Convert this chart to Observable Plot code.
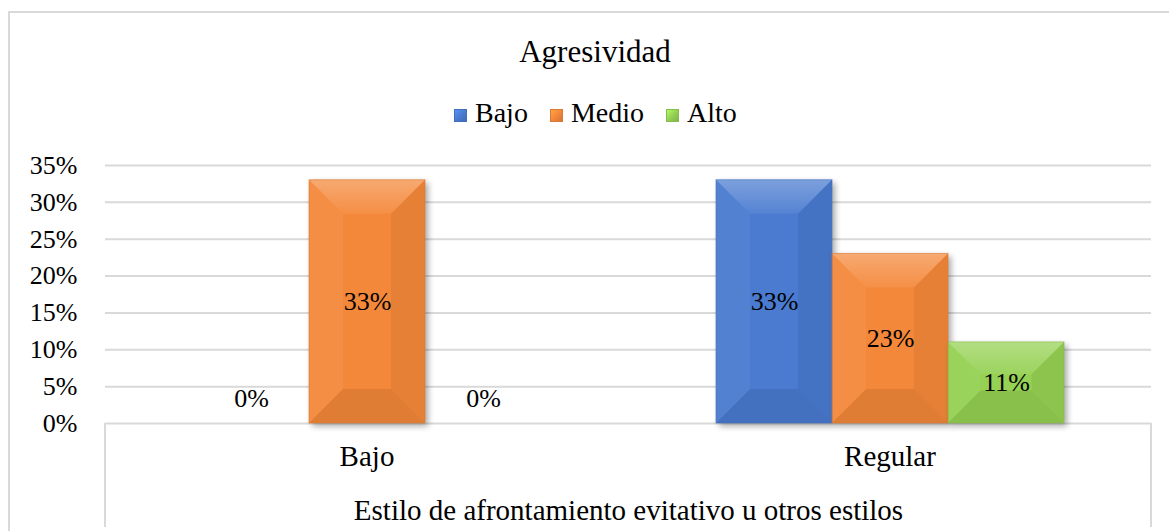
<!DOCTYPE html>
<html>
<head>
<meta charset="utf-8">
<script src="https://cdn.jsdelivr.net/npm/d3@7"></script>
<script src="https://cdn.jsdelivr.net/npm/@observablehq/plot@0.6"></script>
<style>
  html, body { margin: 0; padding: 0; background: #fff; }
  #wrap { position: relative; width: 1169px; height: 531px; overflow: hidden; font-family: "Liberation Serif", "LiberationSerif", "Tinos", "Times New Roman", "Nimbus Roman", "DejaVu Serif", serif; color: #000; }
  #border { position: absolute; left: 8px; top: 11px; width: 1300px; height: 700px; border-left: 2px solid #d9d9d9; border-top: 2px solid #d9d9d9; }
  #title { position: absolute; left: 0; width: 1190px; top: 36px; text-align: center; font-size: 31px; line-height: 31px; white-space: nowrap; }
  #legend { position: absolute; left: 454px; top: 99px; font-size: 28px; line-height: 28px; white-space: nowrap; display: flex; align-items: baseline; }
  .item { display: inline-flex; align-items: baseline; margin-right: 22px; }
  .sw { display: inline-block; width: 13px; height: 13px; margin-right: 8px; box-sizing: border-box; }
  #chart { position: absolute; left: 0; top: 130px; }
  #chart svg text { font-family: "Liberation Serif", "LiberationSerif", "Tinos", "Times New Roman", "Nimbus Roman", "DejaVu Serif", serif; }
</style>
</head>
<body>
<div id="wrap">
  <div id="border"></div>
  <div id="title">Agresividad</div>
  <div id="legend"></div>
  <div id="chart"></div>
</div>
<script>
// ---- data ----
const groups = ["Bajo", "Regular"];
const series = ["Bajo", "Medio", "Alto"];
const bajoValues = [0, 33, 0];
const regularValues = [33, 23, 11];
const yTicks = [0, 5, 10, 15, 20, 25, 30, 35];
const colors = ["#4A7BD0", "#F4883A", "#95D153"];
const titleText = "Agresividad";
const xTitle = "Estilo de afrontamiento evitativo u otros estilos";

const table = [];
[bajoValues, regularValues].forEach((vals, gi) => {
  vals.forEach((v, si) => table.push({group: groups[gi], series: series[si], value: v}));
});

// ---- legend ----
const legend = document.getElementById("legend");
series.forEach((s, i) => {
  const item = document.createElement("span");
  item.className = "item";
  const sw = document.createElement("span");
  sw.className = "sw";
  const c = d3.color(colors[i]);
  sw.style.background = `linear-gradient(135deg, ${c.brighter(0.5)} 0%, ${colors[i]} 50%, ${c.darker(0.4)} 100%)`;
  sw.style.border = `1px solid ${c.darker(0.3)}`;
  item.appendChild(sw);
  item.appendChild(document.createTextNode(s));
  legend.appendChild(item);
});
document.getElementById("title").textContent = titleText;

// ---- chart ----
const W = 1169, H = 401;
const FONT = '"Liberation Serif", "LiberationSerif", "Tinos", "Times New Roman", "Nimbus Roman", "DejaVu Serif", serif';
const plot = Plot.plot({
  width: W,
  height: H,
  marginLeft: 105,
  marginRight: 18,
  marginTop: 35,
  marginBottom: 108,
  style: {fontFamily: FONT, fontSize: "26px", color: "#000", background: "transparent", overflow: "visible"},
  fx: {domain: groups, padding: 0, label: null},
  x: {domain: series, paddingInner: 0, paddingOuter: 0.75, axis: null},
  y: {domain: [0, 35], label: null},
  color: {domain: series, range: colors},
  marks: [
    Plot.gridY(yTicks, {stroke: "#d9d9d9", strokeOpacity: 1, strokeWidth: 2}),
    Plot.axisY(yTicks, {tickSize: 0, tickPadding: 28, tickFormat: d => d + "%", fontSize: 26, label: null}),
    Plot.axisFx({anchor: "bottom", tickSize: 0, tickPadding: 22, fontSize: 29, label: xTitle, labelAnchor: "center", labelArrow: "none", labelOffset: 96}),
    Plot.barY(table, {fx: "group", x: "series", y: "value", fill: "series"}),
    Plot.text(table.filter(d => d.value > 0), {fx: "group", x: "series", y: d => d.value / 2, text: d => d.value + "%", fontSize: 26, fill: "#000"}),
    Plot.text(table.filter(d => d.value === 0), {fx: "group", x: "series", y: "value", text: d => d.value + "%", dy: -25, fontSize: 26, fill: "#000"})
  ]
});
document.getElementById("chart").appendChild(plot);

// ---- decoration: bevel + shadow on bars, category box ----
const svg = d3.select(plot);
const defs = svg.append("defs");
const gTop = defs.append("linearGradient").attr("id", "bevTop").attr("x1", 0).attr("y1", 0).attr("x2", 0).attr("y2", 1);
gTop.append("stop").attr("offset", 0).attr("stop-color", "#fff").attr("stop-opacity", 0.28);
gTop.append("stop").attr("offset", 1).attr("stop-color", "#fff").attr("stop-opacity", 0.06);
svg.selectAll('g[aria-label="bar"] rect').each(function() {
  const r = d3.select(this);
  const x = +r.attr("x"), y = +r.attr("y"), w = +r.attr("width"), h = +r.attr("height");
  if (!(h > 1)) return;
  this.style.filter = "drop-shadow(3px 3px 3px rgba(0,0,0,0.35))";
  const b = Math.min(34, h * 0.4, w * 0.4);
  const p = d3.select(this.parentNode);
  const facets = [
    {pts: [[x, y], [x + w, y], [x + w - b, y + b], [x + b, y + b]], fill: "url(#bevTop)", op: 1},
    {pts: [[x, y], [x + b, y + b], [x + b, y + h - b], [x, y + h]], fill: "#fff", op: 0.05},
    {pts: [[x + w, y], [x + w, y + h], [x + w - b, y + h - b], [x + w - b, y + b]], fill: "#000", op: 0.06},
    {pts: [[x, y + h], [x + b, y + h - b], [x + w - b, y + h - b], [x + w, y + h]], fill: "#000", op: 0.08}
  ];
  facets.forEach(f => p.append("polygon").attr("points", f.pts.map(q => q.join(",")).join(" ")).attr("fill", f.fill).attr("fill-opacity", f.op));
  p.append("rect").attr("x", x).attr("y", y).attr("width", w).attr("height", h).attr("fill", "none").attr("stroke", d3.color(r.attr("fill")).darker(0.3)).attr("stroke-opacity", 0.6).attr("stroke-width", 1);
});
const yS = plot.scale("y");
const y0 = yS.apply(0);
const xl = 105, xr = W - 18;
[xl, xr].forEach(xx => svg.append("line").attr("x1", xx).attr("x2", xx).attr("y1", y0).attr("y2", H - 4).attr("stroke", "#d9d9d9").attr("stroke-width", 2));
</script>
</body>
</html>
